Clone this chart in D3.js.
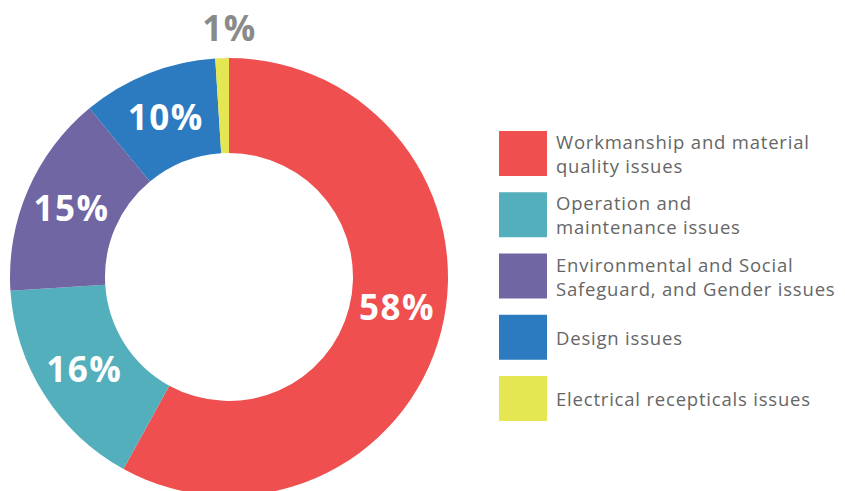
<!DOCTYPE html>
<html>
<head>
<meta charset="utf-8">
<script src="https://cdn.jsdelivr.net/npm/d3@7"></script>
<style>
  html, body { margin: 0; padding: 0; background: #fff; }
  svg { display: block; }
</style>
</head>
<body>
<svg id="chart" width="845" height="491"></svg>
<script>
const categories = [
  ["Workmanship and material", "quality issues"],
  ["Operation and", "maintenance issues"],
  ["Environmental and Social", "Safeguard, and Gender issues"],
  ["Design issues"],
  ["Electrical recepticals issues"]
];
const values = [58, 16, 15, 10, 1];
const labels = ["58%", "16%", "15%", "10%", "1%"];
const colors = ["#EF4F4F", "#53AFBB", "#6F66A3", "#2C7BC0", "#E4E652"];

const svg = d3.select("#chart");
const cx = 229, cy = 277, rOuter = 219, rInner = 124;

const pie = d3.pie().sort(null).value(d => d);
const arcs = pie(values);
const arc = d3.arc().innerRadius(rInner).outerRadius(rOuter);

const g = svg.append("g").attr("transform", `translate(${cx},${cy})`);
g.selectAll("path").data(arcs).enter().append("path")
  .attr("d", arc).attr("fill", (d, i) => colors[i]);

const fontPct = "'Open Sans', Lato, sans-serif";
g.selectAll("text.pct").data(arcs).enter().append("text")
  .attr("class", "pct")
  .attr("transform", (d, i) => {
    const c = arc.centroid(d);
    if (i === 4) {
      // small slice: label sits above the ring
      return `translate(${c[0] + 6},${-rOuter - 30})`;
    }
    if (i === 0) return `translate(${c[0] + 2},${c[1] - 12})`;
    return `translate(${c[0]},${c[1]})`;
  })
  .attr("text-anchor", "middle")
  .attr("dy", "0.36em")
  .attr("font-family", fontPct)
  .attr("font-weight", 700)
  .attr("font-size", 35)
  .attr("letter-spacing", 1.5)
  .attr("fill", (d, i) => i === 4 ? "#8a8a8a" : "#fff")
  .text((d, i) => labels[i]);

// legend
const leg = svg.append("g");
const rowStep = 61.25, legTop = 131, sw = 48, sh = 45;
categories.forEach((lines, i) => {
  const y0 = legTop + i * rowStep;
  leg.append("rect").attr("x", 499).attr("y", y0).attr("width", sw).attr("height", sh).attr("fill", colors[i]);
  const t = leg.append("text")
    .attr("font-family", "'Open Sans', Lato, sans-serif")
    .attr("font-size", 18.5)
    .attr("letter-spacing", 0.8)
    .attr("fill", "#666");
  const lh = 24;
  const base = y0 + sh / 2 + 7.5 - (lines.length - 1) * lh / 2;
  lines.forEach((ln, j) => {
    t.append("tspan").attr("x", 556).attr("y", base + j * lh).text(ln);
  });
});
</script>
</body>
</html>
